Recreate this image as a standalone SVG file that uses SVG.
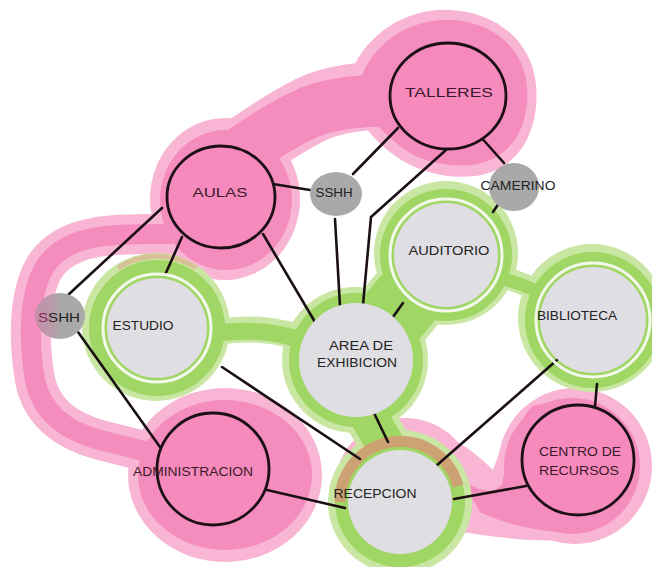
<svg xmlns="http://www.w3.org/2000/svg" width="652" height="567" viewBox="0 0 652 567">
<defs>
<style>
.pl{fill:#f8b6d4}
.pls{fill:none;stroke:#f8b6d4;stroke-linecap:round;stroke-linejoin:round}
.pm{fill:#f48cbd}
.pms{fill:none;stroke:#f48cbd;stroke-linecap:round;stroke-linejoin:round}
.gl{fill:#c9e7a3}
.gls{fill:none;stroke:#c9e7a3;stroke-linecap:round}
.gm{fill:#a0d663}
.gms{fill:none;stroke:#a0d663;stroke-linecap:round}
.ring{fill:none;stroke:#f3f8ec;stroke-width:3}
.gray{fill:#dfdee2}
.pink{fill:#f68abc;stroke:#1c1016;stroke-width:2.8}
.small{fill:#a9a9a9}
.conn{fill:none;stroke:#1a1014;stroke-width:2.6;stroke-linecap:round;stroke-linejoin:round}
text{font-family:"Liberation Sans",Arial,sans-serif;font-size:13px;fill:#222;text-anchor:middle}
.pt{fill:#3a1a2a}
</style>
<linearGradient id="sshhL" x1="0" y1="0" x2="1" y2="0">
<stop offset="0" stop-color="#c28fa8"/>
<stop offset="0.35" stop-color="#b89aa8"/>
<stop offset="0.5" stop-color="#a9a9a9"/>
</linearGradient>
</defs>

<g id="pink-zones">
<g id="pink-light">
<path class="pl" d="M352,70 C370,30 410,8 450,10 C495,12 532,40 536,85 C540,130 520,170 475,176 C440,180 410,168 390,152 C370,136 345,110 352,70 Z"/>
<path class="pls" stroke-width="68" d="M420,95 C380,95 340,95 310,110 C280,125 260,140 230,160"/>
<ellipse class="pl" cx="225" cy="199" rx="75" ry="81"/>
<path class="pls" stroke-width="40" d="M170,234 C120,234 75,232 50,260 C28,285 28,340 35,380 C42,415 70,432 100,440 C120,445 140,450 160,455"/>
<ellipse class="pl" cx="225" cy="475" rx="97" ry="87"/>
<circle class="pl" cx="405" cy="488" r="70"/>
<path class="pl" d="M420,426 C450,433 475,452 493,470 C503,442 515,410 545,394 L570,540 C530,542 490,537 450,530 Z"/>
<ellipse class="pl" cx="575" cy="466" rx="77" ry="78"/>
</g>
<g id="pink-mid">
<path class="pm" d="M362,75 C378,38 415,18 452,20 C492,22 525,48 527,88 C530,128 510,160 472,165 C440,168 412,158 395,142 C375,125 355,105 362,75 Z"/>
<path class="pms" stroke-width="52" d="M420,100 C380,100 340,100 310,112 C280,125 260,140 230,160"/>
<ellipse class="pm" cx="226" cy="200" rx="66" ry="70"/>
<path class="pms" stroke-width="20" d="M170,234 C120,234 75,232 50,260 C28,285 28,340 35,380 C42,415 70,432 100,440 C120,445 140,450 160,455"/>
<ellipse class="pm" cx="225" cy="475" rx="87" ry="75"/>
<path class="pm" d="M462,480 C478,490 492,496 502,484 C507,460 512,430 532,406 L560,400 L560,532 C530,530 500,522 480,512 Z"/>
<ellipse class="pm" cx="572" cy="466" rx="68" ry="68"/>
</g>
</g>

<g id="green-zones">
<g id="green-light">
<circle class="gl" cx="156" cy="327" r="74"/>
<circle class="gl" cx="355" cy="360" r="73"/>
<circle class="gl" cx="446" cy="253" r="72"/>
<circle class="gl" cx="592" cy="318" r="74"/>
<circle class="gl" cx="400" cy="502" r="72"/>
<path class="gls" stroke-width="26" d="M215,332 C245,328 265,328 295,336"/>
<path class="gls" stroke-width="80" d="M356,360 L445,254"/>
<path class="gls" stroke-width="22" d="M500,276 C515,281 525,284 540,292"/>
<path class="gls" stroke-width="50" d="M365,410 L390,452"/>
</g>
<g id="green-mid">
<circle class="gm" cx="157" cy="328" r="68"/>
<circle class="gm" cx="356" cy="360" r="67"/>
<circle class="gm" cx="446" cy="255" r="66"/>
<circle class="gm" cx="593" cy="320" r="68"/>
<circle class="gm" cx="400" cy="502" r="65"/>
<path class="gms" stroke-width="17" d="M215,333 C245,330 265,330 295,338"/>
<path class="gms" stroke-width="70" d="M356,360 L445,254"/>
<path class="gms" stroke-width="13" d="M500,278 C515,282 525,285 540,293"/>
<path class="gms" stroke-width="38" d="M366,412 L390,452"/>
</g>
<path d="M340,502 A60 60 0 0 1 458,486" fill="none" stroke="#d29c74" stroke-width="11" opacity="0.9"/>
<path d="M118,268 A70 70 0 0 1 196,268" fill="none" stroke="#e2a88e" stroke-width="5" opacity="0.6"/>
</g>

<g id="connectors">
<path class="conn" d="M398,128 L353,174"/>
<path class="conn" d="M446,150 L371,217 L363,305"/>
<path class="conn" d="M479,135 L504,163"/>
<path class="conn" d="M499,203 L493,212"/>
<path class="conn" d="M273,184 L310,190"/>
<path class="conn" d="M335,219 L340,306"/>
<path class="conn" d="M162,208 L68,295"/>
<path class="conn" d="M182,237 L165,275"/>
<path class="conn" d="M263,234 L315,322"/>
<path class="conn" d="M403,303 L393,317"/>
<path class="conn" d="M222,367 L360,459"/>
<path class="conn" d="M78,332 L160,447"/>
<path class="conn" d="M267,490 L345,508"/>
<path class="conn" d="M374,413 L388,442"/>
<path class="conn" d="M557,360 L436,466"/>
<path class="conn" d="M597,384 L595,406"/>
<path class="conn" d="M454,499 L526,486"/>
</g>

<g id="talleres">
<ellipse class="pink" cx="448" cy="96" rx="58" ry="53"/>
<text class="pt" x="449" y="97" font-size="19" textLength="88" lengthAdjust="spacingAndGlyphs">TALLERES</text>
</g>
<g id="aulas">
<ellipse class="pink" cx="221" cy="197" rx="54" ry="51"/>
<text class="pt" x="220" y="197" font-size="17" textLength="55" lengthAdjust="spacingAndGlyphs">AULAS</text>
</g>
<g id="sshh-top">
<ellipse class="small" cx="336" cy="194" rx="26" ry="22"/>
<text x="334" y="197" textLength="37" lengthAdjust="spacingAndGlyphs">SSHH</text>
</g>
<g id="camerino">
<ellipse class="small" cx="514" cy="187" rx="25" ry="24"/>
<text x="518" y="190" textLength="75" lengthAdjust="spacingAndGlyphs">CAMERINO</text>
</g>
<g id="auditorio">
<circle class="ring" cx="446" cy="255" r="56"/>
<circle class="gray" cx="446" cy="255" r="52"/>
<text x="449" y="255" textLength="81" lengthAdjust="spacingAndGlyphs">AUDITORIO</text>
</g>
<g id="sshh-left">
<ellipse cx="60" cy="316" rx="25" ry="23" fill="url(#sshhL)"/>
<text x="59" y="322" textLength="42" lengthAdjust="spacingAndGlyphs"><tspan fill="#8a2a5c">S</tspan>SHH</text>
</g>
<g id="estudio">
<circle class="ring" cx="157" cy="328" r="54"/>
<circle class="gray" cx="157" cy="328" r="50"/>
<text x="143" y="330" textLength="61" lengthAdjust="spacingAndGlyphs">ESTUDIO</text>
</g>
<g id="area-exhibicion">
<circle class="gray" cx="356" cy="360" r="57"/>
<text x="361" y="350" textLength="64" lengthAdjust="spacingAndGlyphs">AREA DE</text>
<text x="357" y="367" textLength="80" lengthAdjust="spacingAndGlyphs">EXHIBICION</text>
</g>
<g id="biblioteca">
<circle class="ring" cx="593" cy="320" r="57"/>
<circle class="gray" cx="593" cy="320" r="53"/>
<text x="577" y="320" textLength="80" lengthAdjust="spacingAndGlyphs">BIBLIOTECA</text>
</g>
<g id="administracion">
<ellipse class="pink" cx="213" cy="469" rx="56" ry="56"/>
<text class="pt" x="193" y="476" textLength="120" lengthAdjust="spacingAndGlyphs">ADMINISTRACION</text>
</g>
<g id="recepcion">
<circle class="gray" cx="400" cy="502" r="52"/>
<text x="375" y="498" textLength="83" lengthAdjust="spacingAndGlyphs">RECEPCION</text>
</g>
<g id="centro-recursos">
<ellipse class="pink" cx="578" cy="460" rx="56" ry="55"/>
<text class="pt" x="580" y="456" textLength="82" lengthAdjust="spacingAndGlyphs">CENTRO DE</text>
<text class="pt" x="579" y="475" textLength="80" lengthAdjust="spacingAndGlyphs">RECURSOS</text>
</g>
</svg>
